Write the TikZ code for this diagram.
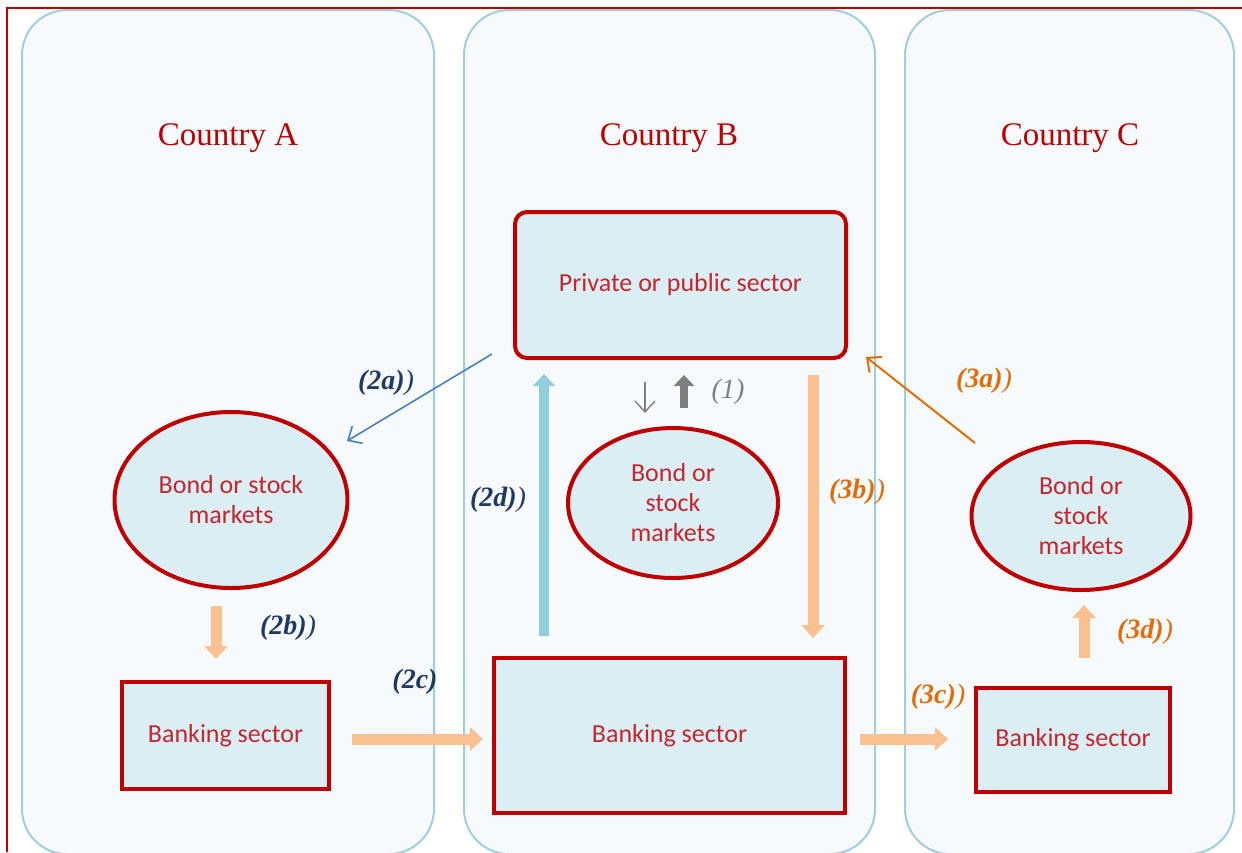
\documentclass[tikz,border=0pt]{standalone}
\usepackage{fontspec}
\setmainfont{Carlito}
\newfontfamily\serifl{Liberation Serif}
\usetikzlibrary{shapes.geometric,arrows.meta}
\definecolor{frame}{HTML}{C00000}
\definecolor{panelfill}{HTML}{F6FAFC}
\definecolor{paneldraw}{HTML}{9FCFDF}
\definecolor{nodefill}{HTML}{DBEEF4}
\definecolor{nodetext}{HTML}{C4262E}
\definecolor{navy}{HTML}{1F3864}
\definecolor{graylab}{HTML}{7F7F7F}
\definecolor{orangelab}{HTML}{E36C09}
\definecolor{peach}{HTML}{FAC090}
\definecolor{lblue}{HTML}{92CDDC}
\definecolor{arrblue}{HTML}{4A7EBB}
\tikzset{
  panel/.style={draw=paneldraw,line width=2pt,fill=panelfill,rounded corners=45pt},
  title/.style={font=\serifl\fontsize{33}{36}\selectfont,text=frame},
  box/.style={draw=frame,line width=4pt,fill=nodefill,text=nodetext,font=\fontsize{26}{30}\selectfont,align=center,inner sep=0pt},
  ell/.style={ellipse,draw=frame,line width=4pt,fill=nodefill,text=nodetext,font=\fontsize{26}{30}\selectfont,align=center,inner sep=0pt},
  lab/.style={font=\serifl\fontsize{28}{30}\selectfont},
  fatpeach/.style={draw=peach,line width=11pt,-{Triangle[width=23pt,length=13pt]}},
  fatblue/.style={draw=lblue,line width=10pt,-{Triangle[width=22pt,length=12pt]}},
  fatgray/.style={draw=graylab,line width=8pt,-{Triangle[width=20pt,length=11pt]}},
  thinarr/.style={line width=1.6pt,-{Straight Barb[length=11pt,width=20pt]}},
}
\begin{document}
\begin{tikzpicture}[x=1pt,y=-1pt]
\useasboundingbox (0,0) rectangle (1242,852);
\clip (0,0) rectangle (1242,852);
\fill[white] (0,0) rectangle (1242,852);
% frame
\draw[frame,line width=2.5pt] (7,852) -- (7,8) -- (1242,8);
% panels
\draw[panel] (22,10) rectangle (434,854);
\draw[panel] (464,10) rectangle (875,854);
\draw[panel] (905,10) rectangle (1234,854);
% titles
\node[title] (tA) at (228,138) {Country A};
\node[title] (tB) at (669,138) {Country B};
\node[title] (tC) at (1070,138) {Country C};
% nodes
\node[box,rounded corners=12pt,minimum width=331pt,minimum height=146pt] (priv) at (680.5,285) {Private or public sector};
\node[ell,minimum width=233pt,minimum height=176pt] (ellA) at (231,500) {Bond or stock\\markets};
\node[ell,minimum width=210pt,minimum height=150pt] (ellB) at (673,503) {Bond or\\stock\\markets};
\node[ell,minimum width=219pt,minimum height=148pt] (ellC) at (1081,516) {Bond or\\stock\\markets};
\node[box,minimum width=207pt,minimum height=107pt] (bankA) at (225.5,735.5) {Banking sector};
\node[box,minimum width=351pt,minimum height=155pt] (bankB) at (669.5,735.5) {Banking sector};
\node[box,minimum width=194pt,minimum height=104pt] (bankC) at (1073,740) {Banking sector};
% arrow end points
\coordinate (a2s) at (492,354);
\coordinate (a2e) at (347,441);
\coordinate (b2s) at (216,606);
\coordinate (b2e) at (216,659);
\coordinate (c2s) at (352,739);
\coordinate (c2e) at (483,739);
\coordinate (d2s) at (544,636);
\coordinate (d2e) at (544,374);
\coordinate (o1s) at (645,382);
\coordinate (o1e) at (645,413);
\coordinate (u1s) at (684,408);
\coordinate (u1e) at (684,375);
\coordinate (a3s) at (975,443);
\coordinate (a3e) at (866,357);
\coordinate (b3s) at (813,375);
\coordinate (b3e) at (813,638);
\coordinate (c3s) at (860,739);
\coordinate (c3e) at (948,739);
\coordinate (d3s) at (1084,658);
\coordinate (d3e) at (1084,605);
% arrows
\draw[thinarr,draw=arrblue] (a2s) -- (a2e);
\draw[fatpeach] (b2s) -- (b2e);
\draw[fatpeach] (c2s) -- (c2e);
\draw[fatblue] (d2s) -- (d2e);
\draw[thinarr,draw=graylab,line width=1.4pt] (o1s) -- (o1e);
\draw[fatgray] (u1s) -- (u1e);
\draw[thinarr,draw=orangelab,line width=2pt] (a3s) -- (a3e);
\draw[fatpeach] (b3s) -- (b3e);
\draw[fatpeach] (c3s) -- (c3e);
\draw[fatpeach] (d3s) -- (d3e);
% labels
\node[lab,text=navy] (l2a) at (386,383) {\bfseries\itshape(2a)\mdseries)};
\node[lab,text=navy] (l2b) at (288,628) {\bfseries\itshape(2b)\mdseries)};
\node[lab,text=navy] (l2c) at (415,682) {\bfseries\itshape(2c)};
\node[lab,text=navy] (l2d) at (498,500) {\bfseries\itshape(2d)\mdseries)};
\node[lab,text=graylab] (l1) at (728,392) {\itshape(1)};
\node[lab,text=orangelab] (l3a) at (984,381) {\bfseries\itshape(3a)\mdseries)};
\node[lab,text=orangelab] (l3b) at (857,492) {\bfseries\itshape(3b)\mdseries)};
\node[lab,text=orangelab] (l3c) at (938,697) {\bfseries\itshape(3c)\mdseries)};
\node[lab,text=orangelab] (l3d) at (1145,632) {\bfseries\itshape(3d)\mdseries)};
\end{tikzpicture}
\end{document}
